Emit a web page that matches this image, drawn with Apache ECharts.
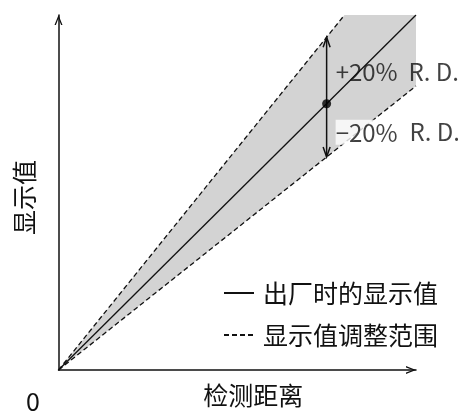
<!DOCTYPE html>
<html>
<head>
<meta charset="utf-8">
<script src="https://cdn.jsdelivr.net/npm/echarts@6/dist/echarts.min.js"></script>
<style>
  html, body { margin: 0; padding: 0; background: #fff; }
  #chart { width: 458px; height: 413px; }
</style>
</head>
<body>
<div id="chart"></div>
<script>
// Values (x and y in units of the axis length)
const factoryLine = [[0, 0], [1, 1]];          // 出厂时的显示值
const upperBound = [[0, 0], [0.8, 1]];         // +20% edge
const lowerBound = [[0, 0], [1, 0.8]];         // -20% edge
const bandPolygon = [[0, 0], [0.8, 1], [1, 1], [1, 0.8]];
const markerPoint = [[0.75, 0.75]];
const rangeArrow = [[0.75, 0.6, 0.9375]];      // x, bottom, top
const rangeLabelPct = ['+20%', '−20%'];
const rangeLabelY = [0.84, 0.67];
const rangeLabelUnit = 'R. D.';
const legendNames = ['出厂时的显示值', '显示值调整范围'];

const font = '"Noto Sans CJK SC", "Noto Sans", sans-serif';
const ink = '#111';

const chart = echarts.init(document.getElementById('chart'));

// open chevron, pointing up (ECharts rotates it along the axis)
const chevron = 'path://M0,0 L4,10 L2.6,10 L0,3.2 L-2.6,10 L-4,10 Z';

const axisCommon = {
    type: 'value',
    min: 0,
    max: 1,
    axisLine: {
        show: true,
        symbol: ['none', chevron],
        symbolSize: [8, 10],
        symbolOffset: [0, -5],
        lineStyle: { color: ink, width: 1.5 },
    },
    axisTick: { show: false },
    axisLabel: { show: false },
    splitLine: { show: false },
    nameLocation: 'middle',
    nameTextStyle: { color: ink, fontSize: 25, fontFamily: font },
};

const option = {
    animation: false,
    grid: { left: 58.5, right: 42, top: 15, bottom: 42 },
    xAxis: Object.assign({}, axisCommon, {
        name: '检测距离',
        nameGap: 13,
        nameTextStyle: Object.assign({}, axisCommon.nameTextStyle, { padding: [0, 0, 0, 32] }),
    }),
    yAxis: Object.assign({}, axisCommon, {
        name: '显示值',
        nameGap: 21,
        nameTextStyle: Object.assign({}, axisCommon.nameTextStyle, { padding: [0, 10, 0, 0] }),
    }),
    legend: {
        data: legendNames,
        orient: 'vertical',
        left: 218,
        top: 275,
        itemWidth: 30,
        itemHeight: 10,
        itemGap: 16,
        itemStyle: { opacity: 0 },
        textStyle: { color: ink, fontSize: 25, fontFamily: font, lineHeight: 26, padding: [0, 0, 0, 4] },
    },
    graphic: [{
        type: 'text',
        x: 33,
        y: 401,
        style: { text: '0', fill: ink, font: '25px ' + font, align: 'center', verticalAlign: 'middle' },
    }],
    series: [
        {
            type: 'custom',
            name: 'band',
            z: 1,
            data: bandPolygon,
            renderItem: function (params, api) {
                if (params.dataIndex !== 0) return;
                return {
                    type: 'polygon',
                    shape: { points: bandPolygon.map(p => api.coord(p)) },
                    style: { fill: '#d3d3d3' },
                };
            },
            silent: true,
        },
        {
            type: 'line',
            name: legendNames[0],
            data: factoryLine,
            symbol: 'none',
            z: 3,
            itemStyle: { color: ink },
            lineStyle: { color: ink, width: 1.3 },
        },
        {
            type: 'line',
            name: legendNames[1],
            data: upperBound,
            symbol: 'none',
            z: 3,
            itemStyle: { color: ink },
            lineStyle: { color: ink, width: 1.3, type: [5, 3] },
        },
        {
            type: 'line',
            name: legendNames[1],
            data: lowerBound,
            symbol: 'none',
            z: 3,
            itemStyle: { color: ink },
            lineStyle: { color: ink, width: 1.3, type: [5, 3] },
        },
        {
            type: 'custom',
            name: 'range',
            z: 4,
            data: rangeArrow,
            renderItem: function (params, api) {
                const x = api.value(0);
                const b = api.coord([x, api.value(1)]);
                const t = api.coord([x, api.value(2)]);
                const s = { stroke: ink, lineWidth: 1.5, fill: null };
                return {
                    type: 'group',
                    children: [
                        { type: 'line', shape: { x1: b[0], y1: b[1], x2: t[0], y2: t[1] }, style: s },
                        { type: 'polyline', shape: { points: [[t[0] - 3.5, t[1] + 10], t, [t[0] + 3.5, t[1] + 10]] }, style: s },
                        { type: 'polyline', shape: { points: [[b[0] - 3.5, b[1] - 10], b, [b[0] + 3.5, b[1] - 10]] }, style: s },
                    ],
                };
            },
            silent: true,
        },
        {
            type: 'scatter',
            name: 'marker',
            z: 5,
            data: markerPoint,
            symbolSize: 9,
            itemStyle: { color: '#000' },
        },
        {
            type: 'scatter',
            name: 'labels',
            z: 6,
            symbolSize: 0,
            data: rangeLabelY.map(y => [rangeArrow[0][0], y]),
            label: {
                show: true,
                position: 'right',
                distance: 9,
                color: ink,
                fontSize: 24,
                fontFamily: font,
                formatter: function (p) {
                    const pct = rangeLabelPct[p.dataIndex];
                    return (p.dataIndex === 1 ? '{w|' + pct + '}' : pct) + '  ' + rangeLabelUnit;
                },
                rich: {
                    w: { backgroundColor: '#fff', color: ink, fontSize: 24, fontFamily: font, padding: [1, 1, 0, 0] },
                },
            },
        },
    ],
};

chart.setOption(option);
</script>
</body>
</html>
